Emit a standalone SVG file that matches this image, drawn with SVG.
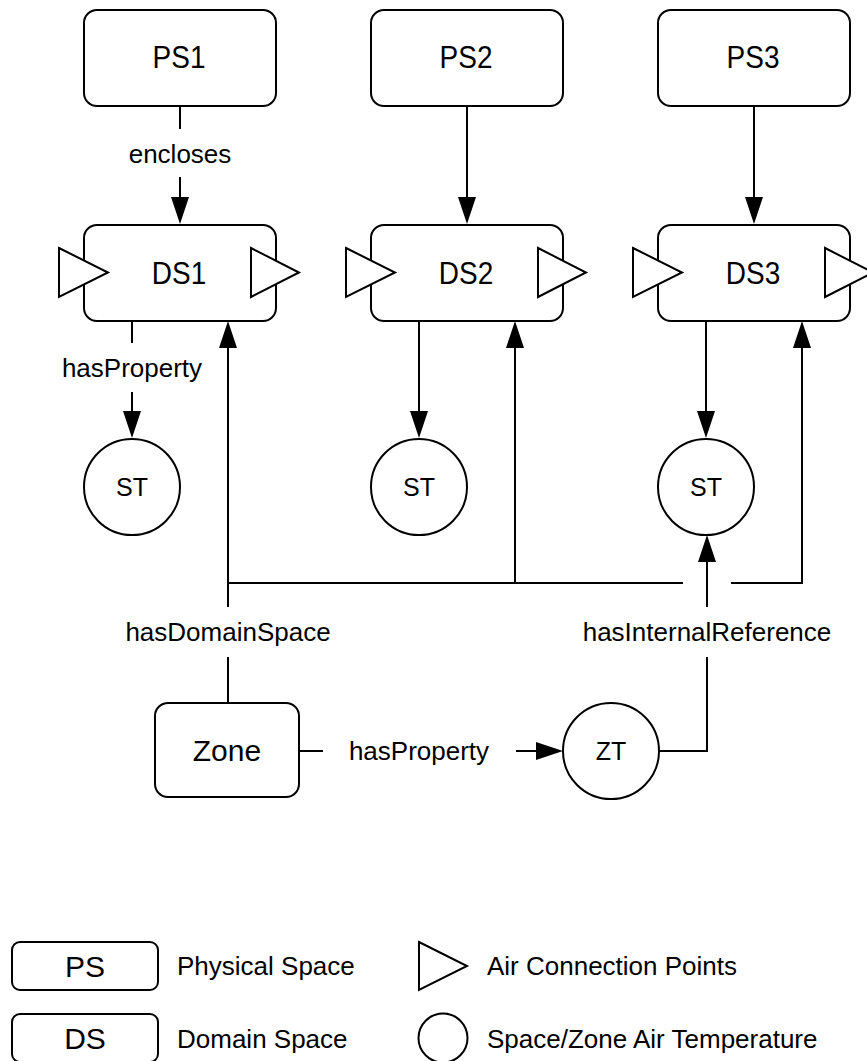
<svg xmlns="http://www.w3.org/2000/svg" width="867" height="1061" viewBox="0 0 867 1061">
<style>
.box{fill:#fff;stroke:#000;stroke-width:2}
.tri{fill:#fff;stroke:#000;stroke-width:2;stroke-linejoin:miter}
.ln{fill:none;stroke:#000;stroke-width:2}
.t{font-family:"Liberation Sans",Arial,sans-serif;fill:#000;text-anchor:middle}
.big{font-size:30px}
.nd{font-size:28px}
.mid{font-size:25px}
.lab{font-size:26px}
.lg{font-family:"Liberation Sans",Arial,sans-serif;fill:#000;font-size:26px}
</style>
<defs>
<marker id="ah" markerUnits="userSpaceOnUse" markerWidth="27" markerHeight="18" refX="19" refY="9" orient="auto" viewBox="0 0 27 18">
<path d="M0,0 L27,9 L0,18 z" fill="#000"/>
</marker>
</defs>
<g id="connectors">
<path class="ln" d="M180,106 V129"/>
<path class="ln" d="M180,177 V216" marker-end="url(#ah)"/>
<text class="t lab" x="180" y="163">encloses</text>
<path class="ln" d="M467,106 V216" marker-end="url(#ah)"/>
<path class="ln" d="M754,106 V216" marker-end="url(#ah)"/>
<path class="ln" d="M132,321 V343"/>
<path class="ln" d="M132,392 V430" marker-end="url(#ah)"/>
<text class="t lab" x="132" y="377">hasProperty</text>
<path class="ln" d="M419,321 V430" marker-end="url(#ah)"/>
<path class="ln" d="M706,321 V430" marker-end="url(#ah)"/>
<path class="ln" d="M228,703 V657"/>
<path class="ln" d="M228,607 V583 H683"/>
<path class="ln" d="M731,583 H802 V329" marker-end="url(#ah)"/>
<path class="ln" d="M228,583 V329" marker-end="url(#ah)"/>
<path class="ln" d="M515,583 V329" marker-end="url(#ah)"/>
<text class="t lab" x="228" y="641">hasDomainSpace</text>
<path class="ln" d="M299,751 H323"/>
<path class="ln" d="M516,751 H555" marker-end="url(#ah)"/>
<text class="t lab" x="419" y="760">hasProperty</text>
<path class="ln" d="M659,751 H707 V657"/>
<path class="ln" d="M707,607 V543" marker-end="url(#ah)"/>
<text class="t lab" x="707" y="641">hasInternalReference</text>
</g>
<g id="PS1"><rect class="box" x="84" y="10" width="192" height="96" rx="13"/><text class="t nd" transform="translate(179,68) scale(1,1.1)">PS1</text></g>
<g id="PS2"><rect class="box" x="371" y="10" width="192" height="96" rx="13"/><text class="t nd" transform="translate(466,68) scale(1,1.1)">PS2</text></g>
<g id="PS3"><rect class="box" x="658" y="10" width="192" height="96" rx="13"/><text class="t nd" transform="translate(753,68) scale(1,1.1)">PS3</text></g>
<g id="DS1"><rect class="box" x="84" y="225" width="192" height="96" rx="13"/><text class="t nd" transform="translate(179,284) scale(1,1.1)">DS1</text>
<path class="tri" d="M59,248 L108,272.5 L59,297 z"/><path class="tri" d="M251,248 L299,272.5 L251,297 z"/></g>
<g id="DS2"><rect class="box" x="371" y="225" width="192" height="96" rx="13"/><text class="t nd" transform="translate(466,284) scale(1,1.1)">DS2</text>
<path class="tri" d="M346,248 L395,272.5 L346,297 z"/><path class="tri" d="M538,248 L586,272.5 L538,297 z"/></g>
<g id="DS3"><rect class="box" x="658" y="225" width="192" height="96" rx="13"/><text class="t nd" transform="translate(753,284) scale(1,1.1)">DS3</text>
<path class="tri" d="M633,248 L682,272.5 L633,297 z"/><path class="tri" d="M825,248 L873,272.5 L825,297 z"/></g>
<g id="ST1"><circle class="box" cx="132" cy="487" r="48"/><text class="t mid" x="132" y="496">ST</text></g>
<g id="ST2"><circle class="box" cx="419" cy="487" r="48"/><text class="t mid" x="419" y="496">ST</text></g>
<g id="ST3"><circle class="box" cx="706" cy="487" r="48"/><text class="t mid" x="706" y="496">ST</text></g>
<g id="Zone"><rect class="box" x="155" y="703" width="144" height="94" rx="13"/><text class="t big" x="227" y="761">Zone</text></g>
<g id="ZT"><circle class="box" cx="611" cy="751" r="48"/><text class="t mid" x="611" y="760">ZT</text></g>
<g id="legend">
<rect class="box" x="12" y="942" width="146" height="48" rx="8"/><text class="t big" x="85" y="977">PS</text>
<text class="lg" x="177" y="975">Physical Space</text>
<rect class="box" x="12" y="1014" width="146" height="48" rx="8"/><text class="t big" x="85" y="1049">DS</text>
<text class="lg" x="177" y="1048">Domain Space</text>
<path class="tri" d="M419,942 L467,966 L419,990 z"/>
<text class="lg" x="487" y="975">Air Connection Points</text>
<circle class="box" cx="443" cy="1038" r="24.5"/>
<text class="lg" x="487" y="1048">Space/Zone Air Temperature</text>
</g>
</svg>
